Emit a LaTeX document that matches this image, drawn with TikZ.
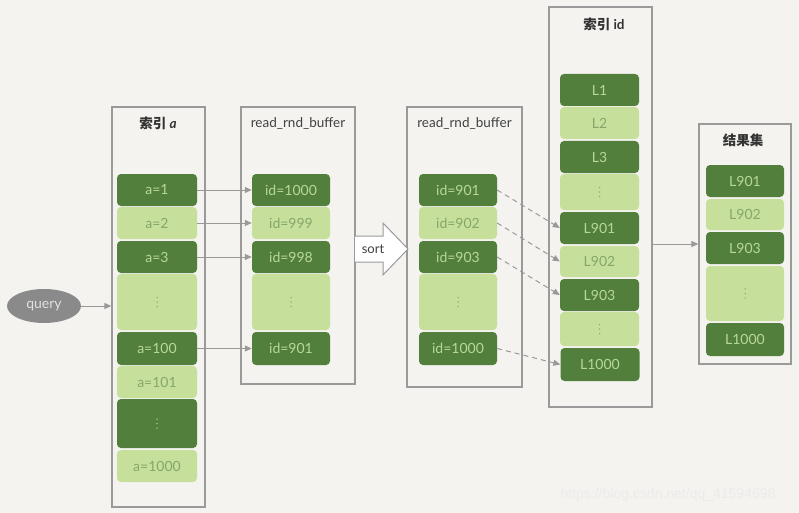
\documentclass[tikz,border=0pt]{standalone}
\usepackage{fontspec}
\setmainfont{Lato}
\newfontfamily\cjk{Noto Sans CJK SC}
\newfontfamily\wm{Liberation Sans}
\usetikzlibrary{arrows.meta,shapes.geometric}
\definecolor{bg}{HTML}{F4F3EF}
\definecolor{dk}{HTML}{52803C}
\definecolor{lt}{HTML}{C6E09C}
\definecolor{dktext}{HTML}{B9D798}
\definecolor{lttext}{HTML}{86A66A}
\definecolor{framec}{HTML}{9A9A9A}
\definecolor{conn}{HTML}{999999}
\definecolor{qgray}{HTML}{8A8A8A}
\newcommand{\vdts}[2]{\foreach \dy in {-4.5,0,4.5} \fill[#2] ($(#1.center)+(0,\dy)$) circle (0.75pt);}
\usetikzlibrary{calc}
\begin{document}
\begin{tikzpicture}[x=1pt,y=-1pt,
  cellbase/.style={rounded corners=4pt, inner sep=0pt, font=\fontsize{14}{14}\selectfont},
  dkc/.style={cellbase, fill=dk, text=dktext},
  ltc/.style={cellbase, fill=lt, text=lttext},
  colbox/.style={draw=framec, line width=1.3pt, inner sep=0pt},
  ttl/.style={font=\fontsize{13.5}{13.5}\selectfont, text=black!75},
  cjkttl/.style={font=\cjk\bfseries\fontsize{13.5}{13.5}\selectfont, text=black!80},
  arr/.style={draw=conn, line width=1pt, -{Triangle[length=7pt,width=6pt]}},
  dsh/.style={arr, dashed, dash pattern=on 5pt off 4pt}
]
\fill[bg] (0,0) rectangle (799,513);

% frames
\node[colbox, minimum width=93pt, minimum height=400pt] (colA) at (158.5,307) {};
\node[colbox, minimum width=114pt, minimum height=277pt] (bufA) at (298,245.5) {};
\node[colbox, minimum width=115pt, minimum height=280pt] (bufB) at (464.5,247) {};
\node[colbox, minimum width=103pt, minimum height=400pt] (colId) at (600.5,207) {};
\node[colbox, minimum width=92pt, minimum height=240pt] (res) at (745,244) {};

% titles
\node[cjkttl] (tA) at (158,123) {索引 \textit{\fontspec{Lato}a}};
\node[ttl] (tB1) at (298,123) {read\_rnd\_buffer};
\node[ttl] (tB2) at (464.5,123) {read\_rnd\_buffer};
\node[cjkttl] (tId) at (604,24) {索引 {\fontspec{Lato}id}};
\node[cjkttl] (tR) at (743,140) {结果集};

% column a
\begin{scope}[every node/.append style={minimum width=80pt}]
\node[dkc, minimum height=32pt] (a1) at (157,190) {a=1};
\node[ltc, minimum height=32pt] (a2) at (157,223) {a=2};
\node[dkc, minimum height=32pt] (a3) at (157,257) {a=3};
\node[ltc, minimum height=56pt] (ad1) at (157,302) {};
\node[dkc, minimum height=33pt] (a100) at (157,348.5) {a=100};
\node[ltc, minimum height=32pt] (a101) at (157,382) {a=101};
\node[dkc, minimum height=49pt] (ad2) at (157,423.5) {};
\node[ltc, minimum height=32pt] (a1000) at (157,466) {a=1000};
\end{scope}
\vdts{ad1}{lttext}
\vdts{ad2}{dktext}

% buffer 1
\begin{scope}[every node/.append style={minimum width=78pt}]
\node[dkc, minimum height=32pt] (b1) at (291,190) {id=1000};
\node[ltc, minimum height=32pt] (b2) at (291,223) {id=999};
\node[dkc, minimum height=32pt] (b3) at (291,257) {id=998};
\node[ltc, minimum height=56pt] (bd) at (291,302) {};
\node[dkc, minimum height=33pt] (b4) at (291,348.5) {id=901};
\end{scope}
\vdts{bd}{lttext}

% buffer 2
\begin{scope}[every node/.append style={minimum width=78pt}]
\node[dkc, minimum height=32pt] (c1) at (458,190) {id=901};
\node[ltc, minimum height=32pt] (c2) at (458,223) {id=902};
\node[dkc, minimum height=32pt] (c3) at (458,257) {id=903};
\node[ltc, minimum height=56pt] (cd) at (458,302) {};
\node[dkc, minimum height=33pt] (c4) at (458,348.5) {id=1000};
\end{scope}
\vdts{cd}{lttext}

% index id
\begin{scope}[every node/.append style={minimum width=79pt}]
\node[dkc, minimum height=32pt] (L1) at (599.5,90) {L1};
\node[ltc, minimum height=32pt] (L2) at (599.5,123) {L2};
\node[dkc, minimum height=32pt] (L3) at (599.5,157) {L3};
\node[ltc, minimum height=36pt] (Ld1) at (599.5,192) {};
\node[dkc, minimum height=32pt] (L901) at (599.5,228) {L901};
\node[ltc, minimum height=31pt] (L902) at (599.5,261.5) {L902};
\node[dkc, minimum height=32pt] (L903) at (599.5,295) {L903};
\node[ltc, minimum height=34pt] (Ld2) at (599.5,329) {};
\node[dkc, minimum height=33pt] (L1000) at (600,364.5) {L1000};
\end{scope}
\vdts{Ld1}{lttext}
\vdts{Ld2}{lttext}

% result
\begin{scope}[every node/.append style={minimum width=78pt}]
\node[dkc, minimum height=32pt] (R1) at (745,181) {L901};
\node[ltc, minimum height=31pt] (R2) at (745,214.5) {L902};
\node[dkc, minimum height=32pt] (R3) at (745,248) {L903};
\node[ltc, minimum height=55pt] (Rd) at (745,293.5) {};
\node[dkc, minimum height=33pt] (R4) at (745,339.5) {L1000};
\end{scope}
\vdts{Rd}{lttext}

% query
\node[ellipse, fill=qgray, text=white!88!black, minimum width=74pt, minimum height=34pt, inner sep=0pt, font=\fontsize{14}{14}\selectfont] (q) at (44,306) {query};
\draw[arr] (q.east) -- (q.east -| colA.west);

% solid arrows
\draw[arr] (a1.east) -- (b1.west);
\draw[arr] (a2.east) -- (b2.west);
\draw[arr] (a3.east) -- (b3.west);
\draw[arr] (a100.east) -- (b4.west);

% dashed arrows
\draw[dsh] (c1.east) -- (L901.west);
\draw[dsh] (c2.east) -- (L902.west);
\draw[dsh] (c3.east) -- (L903.west);
\draw[dsh] (c4.east) -- (L1000.west);

% result arrow
\draw[arr] (res.west -| colId.east) -- (res.west);

% sort block arrow
\draw[framec, line width=1pt, fill=white, line join=miter]
  (355,236) -- (383,236) -- (383,223) -- (408,249) -- (383,275) -- (383,262) -- (355,262);
\node[font=\fontsize{13}{13}\selectfont, text=black!75] (sortlbl) at (373,249) {sort};

% watermark
\node[font=\wm\fontsize{14}{14}\selectfont, text=white!92!black] (wmk) at (668,495) {https://blog.csdn.net/qq\_41594698};
\end{tikzpicture}
\end{document}
